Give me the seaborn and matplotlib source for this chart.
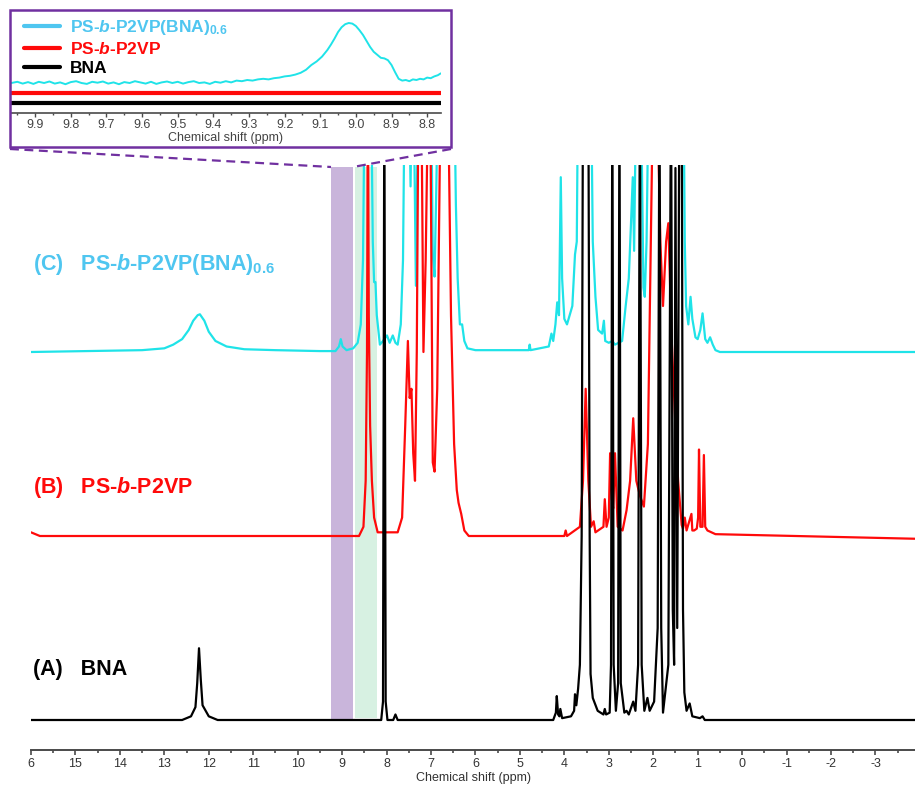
import numpy as np
import pandas as pd
import matplotlib
matplotlib.use("Agg")
import matplotlib.pyplot as plt
import seaborn as sns
from matplotlib.lines import Line2D
from matplotlib.patches import Rectangle
from matplotlib import font_manager

# ---------------- data (ppm, intensity relative to own baseline) ----------------
bna_ppm = [16.0, 12.6, 12.4, 12.3, 12.26, 12.22, 12.18, 12.14, 12.0, 11.8,
           8.12, 8.08, 8.05, 8.02, 7.98, 7.85, 7.80, 7.75,
           4.25, 4.19, 4.17, 4.14, 4.11, 4.09, 4.05, 3.85, 3.78, 3.76, 3.73, 3.69, 3.65,
           3.61, 3.58, 3.50, 3.46, 3.43, 3.41, 3.36, 3.25, 3.12, 3.09, 3.06, 2.98,
           2.95, 2.92, 2.89, 2.84, 2.79, 2.76, 2.73, 2.65, 2.60, 2.55, 2.45, 2.40,
           2.34, 2.30, 2.26, 2.20, 2.13, 2.08, 2.04, 1.98, 1.90, 1.86, 1.82, 1.78,
           1.66, 1.60, 1.56, 1.53, 1.50, 1.46, 1.41, 1.36, 1.33, 1.30, 1.25, 1.18,
           1.12, 0.95, 0.89, 0.84, -3.9]
bna_int = [0.0, 0.0, 0.02, 0.07, 0.2, 0.39, 0.22, 0.08, 0.02, 0.0,
           0.0, 0.1, 3.5, 0.1, 0.0, 0.0, 0.03, 0.0,
           0.0, 0.04, 0.13, 0.03, 0.02, 0.06, 0.01, 0.02, 0.05, 0.14, 0.08, 0.17, 0.3,
           1.0, 3.5, 3.5, 3.5, 1.0, 0.25, 0.12, 0.05, 0.03, 0.06, 0.03, 0.04,
           0.3, 3.5, 0.3, 0.05, 0.2, 3.5, 0.2, 0.04, 0.05, 0.03, 0.1, 0.05,
           0.3, 3.5, 0.3, 0.05, 0.12, 0.05, 0.07, 0.1, 0.5, 3.5, 0.5, 0.04,
           0.3, 3.5, 0.6, 0.3, 3.0, 0.5, 3.5, 3.5, 0.6, 0.15, 0.05, 0.09,
           0.02, 0.01, 0.02, 0.0, 0.0]

p2vp_ppm = [16.0, 15.9, 15.8, 8.62, 8.52, 8.47, 8.44, 8.42, 8.40, 8.37, 8.33, 8.28,
            8.20, 7.75, 7.65, 7.58, 7.52, 7.48, 7.44, 7.40, 7.36, 7.32, 7.28, 7.22,
            7.17, 7.12, 7.06, 7.02, 6.96, 6.92, 6.86, 6.78, 6.70, 6.62, 6.55, 6.48,
            6.42, 6.38, 6.32, 6.25, 6.15, 4.0, 3.97, 3.94, 3.65, 3.58, 3.52, 3.46, 3.40,
            3.34, 3.30, 3.12, 3.09, 3.05, 3.00, 2.97, 2.93, 2.90, 2.86, 2.80, 2.69,
            2.60, 2.52, 2.45, 2.38, 2.30, 2.21, 2.12, 2.06, 2.00, 1.92, 1.84, 1.78,
            1.71, 1.66, 1.59, 1.51, 1.44, 1.36, 1.33, 1.29, 1.25, 1.14, 1.12, 1.08,
            1.02, 0.99, 0.97, 0.94, 0.89, 0.86, 0.83, 0.78, 0.6, -3.9]
p2vp_int = [0.02, 0.01, 0.0, 0.0, 0.05, 0.3, 1.0, 2.5, 1.2, 0.6, 0.3, 0.1,
            0.02, 0.02, 0.1, 0.6, 1.06, 0.75, 0.8, 0.45, 0.3, 1.0, 2.5, 2.5,
            1.0, 1.5, 2.5, 2.5, 0.4, 0.35, 0.8, 2.5, 2.5, 2.5, 1.2, 0.5,
            0.25, 0.18, 0.12, 0.03, 0.0, 0.0, 0.03, 0.0, 0.05, 0.3, 0.8, 0.3, 0.05,
            0.08, 0.02, 0.05, 0.2, 0.05, 0.1, 0.45, 0.2, 0.15, 0.45, 0.05, 0.03,
            0.14, 0.3, 0.64, 0.3, 0.22, 0.16, 0.5, 1.5, 2.5, 2.5, 1.6, 1.25,
            1.6, 1.7, 1.1, 0.65, 0.3, 0.06, 0.04, 0.1, 0.03, 0.12, 0.03, 0.03,
            0.04, 0.1, 0.47, 0.05, 0.05, 0.44, 0.05, 0.03, 0.01, -0.015]

cplx_ppm = [16.0, 13.5, 13.0, 12.8, 12.6, 12.45, 12.35, 12.25, 12.2, 12.1, 12.0,
            11.85, 11.6, 11.2, 10.5, 9.5, 9.15, 9.07, 9.03, 8.99, 8.9, 8.75, 8.65,
            8.58, 8.53, 8.49, 8.35, 8.31, 8.28, 8.25, 8.22, 8.15, 8.08, 7.99, 7.93,
            7.86, 7.80, 7.75, 7.68, 7.63, 7.59, 7.50, 7.46, 7.43, 7.37, 7.34, 7.31,
            7.28, 7.00, 6.96, 6.92, 6.88, 6.84, 6.48, 6.44, 6.40, 6.35, 6.30, 6.25,
            6.18, 6.0, 4.80, 4.78, 4.76, 4.35, 4.29, 4.25, 4.20, 4.16, 4.12, 4.08,
            4.05, 4.0, 3.94, 3.88, 3.82, 3.76, 3.72, 3.69, 3.40, 3.36, 3.30, 3.24,
            3.15, 3.11, 3.08, 3.0, 2.92, 2.86, 2.78, 2.70, 2.62, 2.55, 2.50, 2.46,
            2.43, 2.38, 2.28, 2.22, 2.19, 2.15, 2.10, 1.32, 1.29, 1.26, 1.21, 1.16,
            1.12, 1.05, 1.0, 0.94, 0.89, 0.83, 0.78, 0.72, 0.66, 0.60, 0.5, -3.9]
cplx_int = [0.0, 0.01, 0.02, 0.04, 0.07, 0.12, 0.17, 0.2, 0.205, 0.17, 0.11,
            0.06, 0.03, 0.015, 0.01, 0.005, 0.005, 0.03, 0.07, 0.03, 0.01, 0.02, 0.05,
            0.15, 0.5, 1.5, 1.5, 0.6, 0.38, 0.38, 0.2, 0.04, 0.06, 0.09, 0.05,
            0.09, 0.05, 0.04, 0.15, 0.5, 1.5, 1.5, 0.9, 1.5, 1.0, 0.36, 1.0,
            1.5, 1.5, 0.53, 0.41, 0.9, 1.5, 1.5, 0.8, 0.4, 0.15, 0.15, 0.06,
            0.02, 0.01, 0.01, 0.04, 0.01, 0.03, 0.1, 0.06, 0.15, 0.27, 0.2, 0.95,
            0.4, 0.18, 0.15, 0.2, 0.25, 0.53, 0.6, 1.5, 1.5, 0.6, 0.3, 0.12,
            0.1, 0.17, 0.06, 0.05, 0.06, 0.04, 0.05, 0.06, 0.25, 0.4, 0.7, 0.95,
            0.55, 1.5, 1.5, 0.35, 0.3, 0.6, 1.5, 1.5, 0.6, 0.25, 0.15, 0.3,
            0.18, 0.08, 0.07, 0.12, 0.21, 0.07, 0.05, 0.08, 0.04, 0.01, 0.0, 0.0]

# inset (zoomed 9.97-8.76 ppm)
inset_ppm = [9.967, 9.95, 9.935, 9.92, 9.905, 9.89, 9.875, 9.86, 9.845, 9.83, 9.815, 9.80,
             9.785, 9.77, 9.755, 9.74, 9.725, 9.71, 9.695, 9.68, 9.665, 9.65, 9.635, 9.62,
             9.605, 9.59, 9.575, 9.56, 9.545, 9.53, 9.515, 9.50, 9.485, 9.47, 9.455, 9.44,
             9.425, 9.41, 9.395, 9.38, 9.365, 9.35, 9.335, 9.32, 9.305, 9.29, 9.275, 9.26,
             9.245, 9.23, 9.215, 9.20, 9.185, 9.17, 9.155, 9.14, 9.125, 9.11, 9.095, 9.08,
             9.07, 9.06, 9.05, 9.04, 9.03, 9.02, 9.01, 9.00, 8.99, 8.98, 8.97, 8.96,
             8.95, 8.94, 8.93, 8.92, 8.91, 8.90, 8.89, 8.88, 8.87, 8.86, 8.85, 8.84,
             8.83, 8.82, 8.81, 8.80, 8.79, 8.78, 8.77, 8.762]
inset_int = [0.0, 0.02, -0.01, 0.015, -0.015, 0.02, 0.0, 0.025, -0.01, 0.01, -0.02, 0.015,
             0.03, 0.0, -0.015, 0.02, 0.005, 0.025, -0.01, 0.01, -0.02, 0.015, 0.0, 0.03,
             0.01, -0.01, 0.02, -0.015, 0.01, 0.025, 0.0, 0.02, -0.01, 0.015, 0.03, 0.0,
             0.01, -0.015, 0.02, 0.005, 0.03, 0.01, 0.04, 0.03, 0.05, 0.04, 0.06, 0.07,
             0.06, 0.08, 0.09, 0.11, 0.12, 0.14, 0.17, 0.22, 0.30, 0.36, 0.44, 0.55,
             0.64, 0.74, 0.85, 0.93, 0.98, 1.0, 0.99, 0.95, 0.88, 0.80, 0.70, 0.60,
             0.52, 0.47, 0.42, 0.41, 0.38, 0.30, 0.18, 0.07, 0.04, 0.05, 0.03, 0.06,
             0.05, 0.07, 0.06, 0.09, 0.08, 0.11, 0.13, 0.16]

main_ticks = list(range(16, -4, -1))
main_ticklabels = ["6"] + [str(t) for t in range(15, -4, -1)]
inset_ticks = [9.9, 9.8, 9.7, 9.6, 9.5, 9.4, 9.3, 9.2, 9.1, 9.0, 8.9, 8.8]

labels = {"C": "(C)   PS-$\\mathbfit{b}$-P2VP(BNA)$_{\\mathbf{0.6}}$",
          "B": "(B)   PS-$\\mathbfit{b}$-P2VP",
          "A": "(A)   BNA"}
legend_labels = ["PS-$\\mathbfit{b}$-P2VP(BNA)$_{\\mathbf{0.6}}$",
                 "PS-$\\mathbfit{b}$-P2VP", "BNA"]

# ---------------- styling ----------------
sns.set_theme(style="white")
plt.rcParams['font.family'] = ['Liberation Sans', 'DejaVu Sans']
plt.rcParams['mathtext.fontset'] = 'custom'
plt.rcParams['mathtext.rm'] = 'Liberation Sans:bold'
plt.rcParams['mathtext.bf'] = 'Liberation Sans:bold'
plt.rcParams['mathtext.it'] = 'Liberation Sans:italic:bold'
plt.rcParams['mathtext.bfit'] = 'Liberation Sans:italic:bold'

names = {f.name for f in font_manager.fontManager.ttflist}
NARROW = 'Liberation Sans Narrow' if 'Liberation Sans Narrow' in names else 'Liberation Sans'
narrow_size = 10 if NARROW == 'Liberation Sans Narrow' else 9

CYAN = "#1FE3E8"
CYAN_TXT = "#4FC6F0"
RED = "#FF0A0A"
BLACK = "#000000"
PURPLE = "#7030A0"
GRAY = "#4a4a4a"

W, H = 915, 785
fig = plt.figure(figsize=(W / 100, H / 100), dpi=100)

# main axes
ax = fig.add_axes([31 / W, 1 - 750 / H, (915 - 31) / W, (750 - 165) / H])
ax.set_xlim(16.0, -3.89)
ax.set_ylim(-30 / 184, 555 / 184)

ax.axvspan(9.25, 8.765, ymin=30 / 585, ymax=583 / 585, color="#C9B5DB", lw=0, zorder=0)
ax.axvspan(8.72, 8.22, ymin=32 / 585, ymax=583 / 585, color="#D7F1E2", lw=0, zorder=0)

offsets = {"C": 2.0, "B": 1.0, "A": 0.0}
dfC = pd.DataFrame({"ppm": cplx_ppm, "y": np.array(cplx_int) + offsets["C"]})
dfB = pd.DataFrame({"ppm": p2vp_ppm, "y": np.array(p2vp_int) + offsets["B"]})
dfA = pd.DataFrame({"ppm": bna_ppm, "y": np.array(bna_int) + offsets["A"]})
sns.lineplot(data=dfC, x="ppm", y="y", ax=ax, color=CYAN, lw=1.6, estimator=None)
sns.lineplot(data=dfB, x="ppm", y="y", ax=ax, color=RED, lw=1.6, estimator=None)
sns.lineplot(data=dfA, x="ppm", y="y", ax=ax, color=BLACK, lw=1.6, estimator=None)

for s in ["left", "right", "top"]:
    ax.spines[s].set_visible(False)
ax.spines["bottom"].set_color(GRAY)
ax.spines["bottom"].set_linewidth(1.4)
ax.set_yticks([])
ax.set_ylabel("")
ax.set_xticks(main_ticks)
ax.set_xticklabels(main_ticklabels, fontfamily=NARROW)
ax.set_xticks(np.arange(15.5, -4, -1.0), minor=True)
ax.tick_params(axis="x", which="major", direction="out", length=3.5, width=1.2,
               color=GRAY, labelsize=narrow_size, labelcolor="#333333", pad=2, bottom=True)
ax.tick_params(axis="x", which="minor", direction="out", length=2, width=1.2,
               color=GRAY, bottom=True)
ax.set_xlabel("Chemical shift (ppm)", fontsize=narrow_size, color="#333333",
              labelpad=2, fontfamily=NARROW)
ax.patch.set_alpha(0)

# labels
for key, ypx, col in [("C", 270, CYAN_TXT), ("B", 493, RED), ("A", 675, BLACK)]:
    fig.text(33 / W, 1 - ypx / H, labels[key], color=col, fontsize=15.5,
             fontweight="bold", va="baseline", ha="left")

# inset
axi = fig.add_axes([11.3 / W, 1 - 113 / H, (440.7 - 11.3) / W, (113 - 12) / H])
axi.set_xlim(9.967, 8.762)
axi.set_ylim(0, 101 / 60)
dfI = pd.DataFrame({"ppm": inset_ppm, "y": np.array(inset_int) + 0.5})
sns.lineplot(data=dfI, x="ppm", y="y", ax=axi, color=CYAN, lw=1.4, estimator=None)
flat = pd.DataFrame({"ppm": [9.967, 8.762], "y": [0.0, 0.0]})
sns.lineplot(x=flat["ppm"], y=flat["y"] + 20 / 60, ax=axi, color=RED, lw=3.0, estimator=None)
sns.lineplot(x=flat["ppm"], y=flat["y"] + 10 / 60, ax=axi, color=BLACK, lw=3.0, estimator=None)
for s in ["left", "right", "top"]:
    axi.spines[s].set_visible(False)
axi.spines["bottom"].set_color(GRAY)
axi.spines["bottom"].set_linewidth(1.2)
axi.set_yticks([])
axi.set_ylabel("")
axi.set_xticks(inset_ticks)
axi.set_xticklabels([f"{t:.1f}" for t in inset_ticks])
axi.set_xticks(np.arange(9.95, 8.76, -0.1), minor=True)
axi.tick_params(axis="x", which="major", direction="out", length=3, width=1,
                color=GRAY, labelsize=9, labelcolor="#444444", pad=1.5, bottom=True)
axi.tick_params(axis="x", which="minor", direction="out", length=1.5, width=1,
                color=GRAY, bottom=True)
axi.set_xlabel("Chemical shift (ppm)", fontsize=9, color="#444444", labelpad=0.5)
axi.patch.set_alpha(0)

handles = [Line2D([], [], color=CYAN_TXT, lw=3),
           Line2D([], [], color=RED, lw=3),
           Line2D([], [], color=BLACK, lw=3)]
leg = axi.legend(handles, legend_labels, loc="upper left",
                 bbox_to_anchor=(24 / W, 1 - 18 / H), bbox_transform=fig.transFigure,
                 frameon=False, borderpad=0, borderaxespad=0, handlelength=2.1,
                 handletextpad=0.55, labelspacing=0.22,
                 prop={"weight": "bold", "size": 12.5},
                 labelcolor=[CYAN_TXT, RED, BLACK])

# frame + connectors
fig.add_artist(Rectangle((10 / W, 1 - 147 / H), 441 / W, 137 / H, fill=False,
                         edgecolor=PURPLE, lw=1.8, transform=fig.transFigure))
fig.add_artist(Line2D([10 / W, 331 / W], [1 - 149 / H, 1 - 167 / H], color=PURPLE,
                      lw=1.6, ls=(0, (4, 2.5)), transform=fig.transFigure))
fig.add_artist(Line2D([451 / W, 353 / W], [1 - 149 / H, 1 - 167 / H], color=PURPLE,
                      lw=1.6, ls=(0, (4, 2.5)), transform=fig.transFigure))

fig.savefig("out.png", dpi=100)
